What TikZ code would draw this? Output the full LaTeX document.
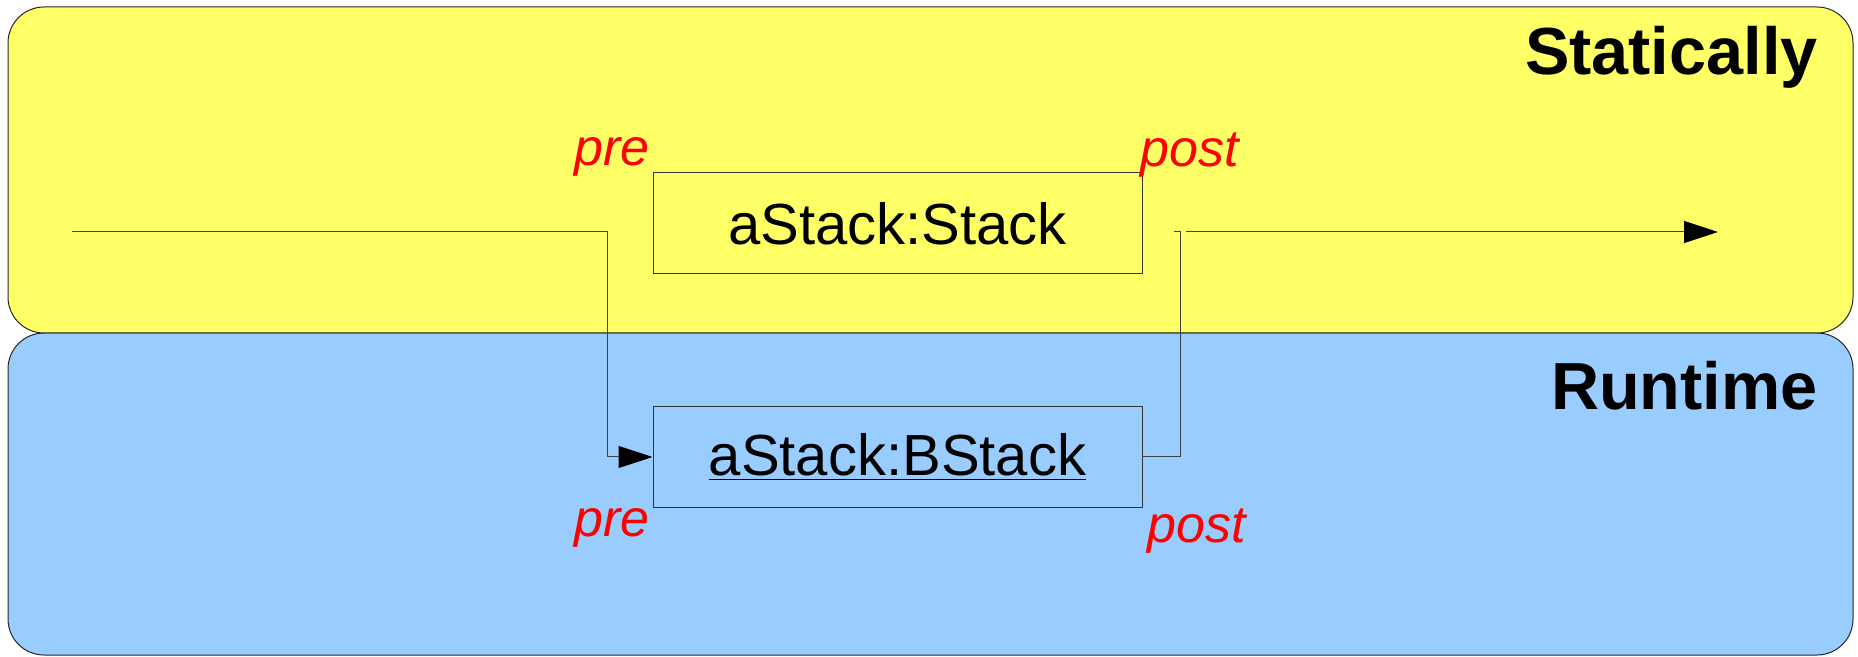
\documentclass[tikz,border=0pt]{standalone}
\usepackage{fontspec}
\setmainfont{Liberation Sans}
\usetikzlibrary{arrows.meta}
\definecolor{statyellow}{HTML}{FFFF66}
\definecolor{runblue}{HTML}{99CCFF}
\definecolor{lblred}{HTML}{FF0000}
\begin{document}
\begin{tikzpicture}[x=0.5pt,y=-0.5pt,
  lane/.style={draw=black!85,line width=0.5pt,rounded corners=18pt},
  objbox/.style={draw=black!80,line width=0.5pt,minimum width=244.5pt,minimum height=50.5pt,inner sep=0pt,font=\fontsize{29pt}{34pt}\selectfont},
  title/.style={font=\fontsize{33.3pt}{40pt}\selectfont\bfseries,inner sep=0pt},
  cond/.style={text=lblred,font=\fontsize{26pt}{31pt}\selectfont\itshape,inner sep=0pt},
  conn/.style={draw=black!75,line width=0.5pt},
  tip/.style={-{Triangle[length=17pt,width=11pt,fill=black,color=black]}}
]
\useasboundingbox (0,0) rectangle (1858,657);
\fill[white] (0,0) rectangle (1858,657);
\draw[lane,fill=runblue] (8,333) rectangle (1853,655);
\draw[lane,fill=statyellow] (8,7) rectangle (1853,333);
\node[title,anchor=base east] (stat) at (1818,75) {Statically};
\node[title,anchor=base east] (run) at (1818,410) {Runtime};
\node[objbox] (top) at (897.5,223.5) {aStack:Stack};
\node[objbox] (bot) at (897.5,457) {\underline{aStack:BStack}};
\node[cond,anchor=base west] (pretop) at (574,166) {pre};
\node[cond,anchor=base west] (posttop) at (1140,167) {post};
\node[cond,anchor=base west] (prebot) at (574,536) {pre};
\node[cond,anchor=base west] (postbot) at (1147,542) {post};
\coordinate (start) at (72,232);
\coordinate (tick) at (1174,232);
\coordinate (resume) at (1186,232);
\coordinate (finish) at (1718,232);
\draw[conn,tip] (start) -| (607,457) -- (bot.west);
\draw[conn] (bot.east) -| (1180,232) -- (tick);
\draw[conn,tip] (resume) -- (finish);
\end{tikzpicture}
\end{document}
